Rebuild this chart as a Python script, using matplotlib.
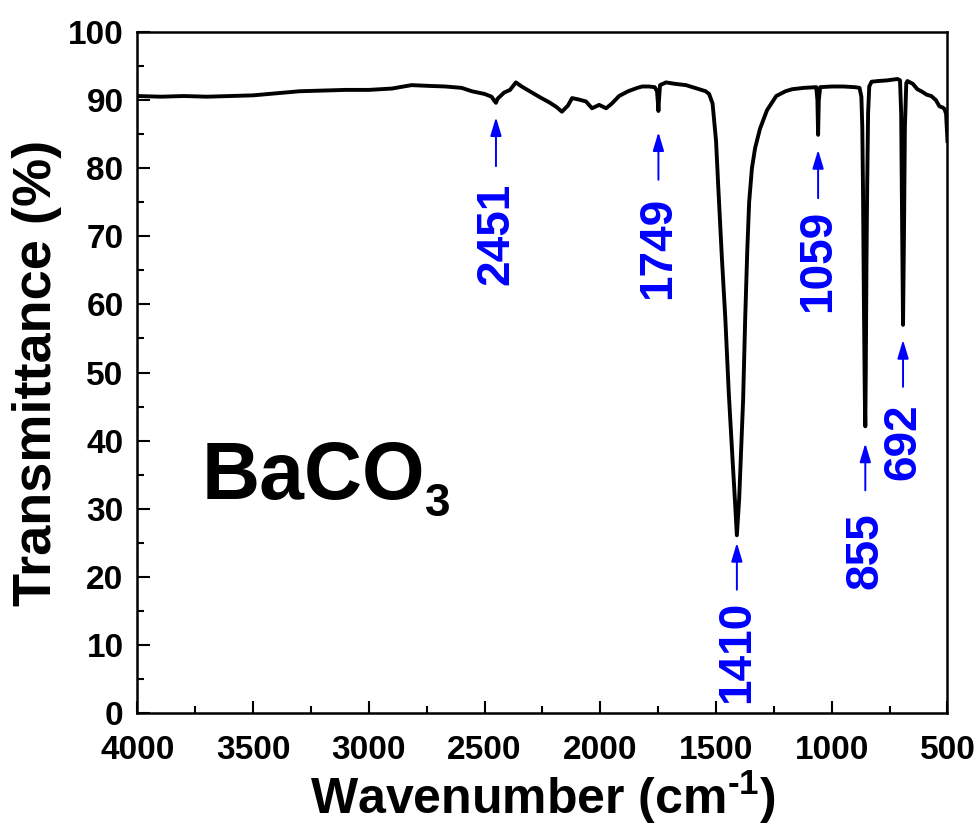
import numpy as np
import matplotlib
matplotlib.use('Agg')
import matplotlib.pyplot as plt
from matplotlib.ticker import MultipleLocator

plt.rcParams['font.family'] = ['Liberation Sans', 'DejaVu Sans']
plt.rcParams['font.weight'] = 'bold'
plt.rcParams['mathtext.fontset'] = 'custom'
plt.rcParams['mathtext.rm'] = 'Liberation Sans:bold'
plt.rcParams['mathtext.bf'] = 'Liberation Sans:bold'
plt.rcParams['mathtext.it'] = 'Liberation Sans:bold'
plt.rcParams['mathtext.default'] = 'rm'

# FTIR spectrum of BaCO3
wavenumber = [4000, 3900, 3800, 3700, 3600, 3500, 3400, 3300, 3200, 3100,
              3000, 2900, 2850, 2815, 2750, 2670, 2600, 2555, 2500, 2470,
              2458, 2451, 2444, 2416, 2390, 2365, 2340, 2300, 2260, 2222,
              2190, 2166, 2140, 2122, 2095, 2062, 2036, 2005, 1975, 1950,
              1919, 1880, 1840, 1819, 1790, 1765, 1755, 1751, 1749, 1747,
              1742, 1716, 1680, 1630, 1573, 1545, 1530, 1515, 1500, 1490,
              1475, 1460, 1445, 1430, 1418, 1410, 1400, 1390, 1383, 1374,
              1365, 1357, 1345, 1331, 1310, 1280, 1240, 1200, 1171, 1120,
              1067, 1062, 1059, 1056, 1050, 1000, 950, 900, 880, 872,
              868, 865, 861, 857, 855, 853, 850, 847, 843, 838,
              828, 800, 760, 716, 705, 700, 696, 692, 688, 684,
              678, 673, 650, 630, 608, 590, 570, 550, 535, 520,
              513, 506, 500]
transmittance = [90.6, 90.5, 90.6, 90.5, 90.6, 90.7, 91.0, 91.3, 91.4, 91.5,
                 91.5, 91.7, 92.0, 92.2, 92.1, 92.0, 91.8, 91.3, 90.9, 90.5,
                 89.9, 89.6, 90.2, 91.1, 91.5, 92.6, 92.0, 91.2, 90.4, 89.7,
                 89.0, 88.3, 89.2, 90.3, 90.1, 89.8, 88.8, 89.3, 88.8, 89.5,
                 90.6, 91.3, 91.8, 92.0, 92.0, 91.9, 91.3, 89.5, 88.4, 89.8,
                 92.2, 92.6, 92.4, 92.2, 91.6, 91.3, 90.9, 89.5, 84.0, 77.0,
                 67.0, 58.0, 47.0, 38.0, 31.0, 26.1, 31.5, 40.0, 46.0, 58.0,
                 68.0, 75.0, 80.0, 83.0, 85.8, 88.5, 90.6, 91.3, 91.6, 91.8,
                 91.9, 90.0, 84.9, 90.0, 91.9, 92.0, 92.0, 91.9, 91.8, 90.5,
                 86.0, 77.0, 60.0, 46.0, 42.1, 50.0, 66.0, 77.0, 88.0, 92.0,
                 92.7, 92.8, 92.9, 93.1, 92.9, 88.0, 72.0, 57.0, 70.0, 86.0,
                 92.5, 92.8, 92.4, 91.6, 91.2, 90.8, 90.6, 90.0, 89.1, 88.9,
                 88.7, 88.0, 84.0]

# peak labels: wavenumber, arrow tip, arrow tail, text centre
peak_labels = ['2451', '1749', '1410', '1059', '855', '692']
peak_x = [2451, 1749, 1410, 1059, 855, 692]
arrow_tip = [87.5, 85.3, 25.0, 82.7, 39.6, 54.8]
arrow_tail = [80.3, 78.3, 18.1, 75.6, 32.7, 47.9]
text_y = [70.4, 68.3, 9.0, 66.4, 23.9, 39.9]

fig = plt.figure(figsize=(9.8, 8.27), dpi=100)
ax = fig.add_axes([0.1403, 0.1378, 0.8265, 0.8235])

ax.plot(wavenumber, transmittance, color='black', lw=2.8, solid_joinstyle='round')

for lab, px, tip, tail, ty in zip(peak_labels, peak_x, arrow_tip, arrow_tail, text_y):
    ax.annotate('', xy=(px, tip), xytext=(px, tail),
                arrowprops=dict(arrowstyle='-|>,head_length=0.8,head_width=0.24',
                                color='blue', lw=1.4, mutation_scale=14,
                                shrinkA=0, shrinkB=0))
    ax.text(px, ty, lab, color='blue', fontsize=33, fontweight='bold',
            rotation=90, ha='center', va='center')

# sample name with a dropped subscript
name = ax.text(3722, 31.5, 'BaCO', fontsize=58, fontweight='bold',
               ha='left', va='baseline')
ax.annotate('3', xy=(1, 0), xycoords=name, xytext=(0, 0),
            textcoords='offset points', fontsize=33, fontweight='bold',
            ha='left', va='baseline')

ax.set_xlim(4000, 500)
ax.set_ylim(0, 100)
ax.xaxis.set_major_locator(MultipleLocator(500))
ax.xaxis.set_minor_locator(MultipleLocator(250))
ax.yaxis.set_major_locator(MultipleLocator(10))
ax.yaxis.set_minor_locator(MultipleLocator(5))
ax.tick_params(which='both', direction='in', top=False, right=False, width=1.5)
ax.tick_params(which='major', length=9)
ax.tick_params(which='minor', length=5)
ax.tick_params(axis='x', labelsize=24, pad=16)
ax.tick_params(axis='y', labelsize=24, pad=10)
for s in ax.spines.values():
    s.set_linewidth(1.8)

ax.set_xlabel(r'Wavenumber (cm$^{\text{-}1}$)', fontsize=36, fontweight='bold', labelpad=2)
ax.set_ylabel('Transmittance (%)', fontsize=39, fontweight='bold', labelpad=4)

fig.savefig('out.png', dpi=100)
